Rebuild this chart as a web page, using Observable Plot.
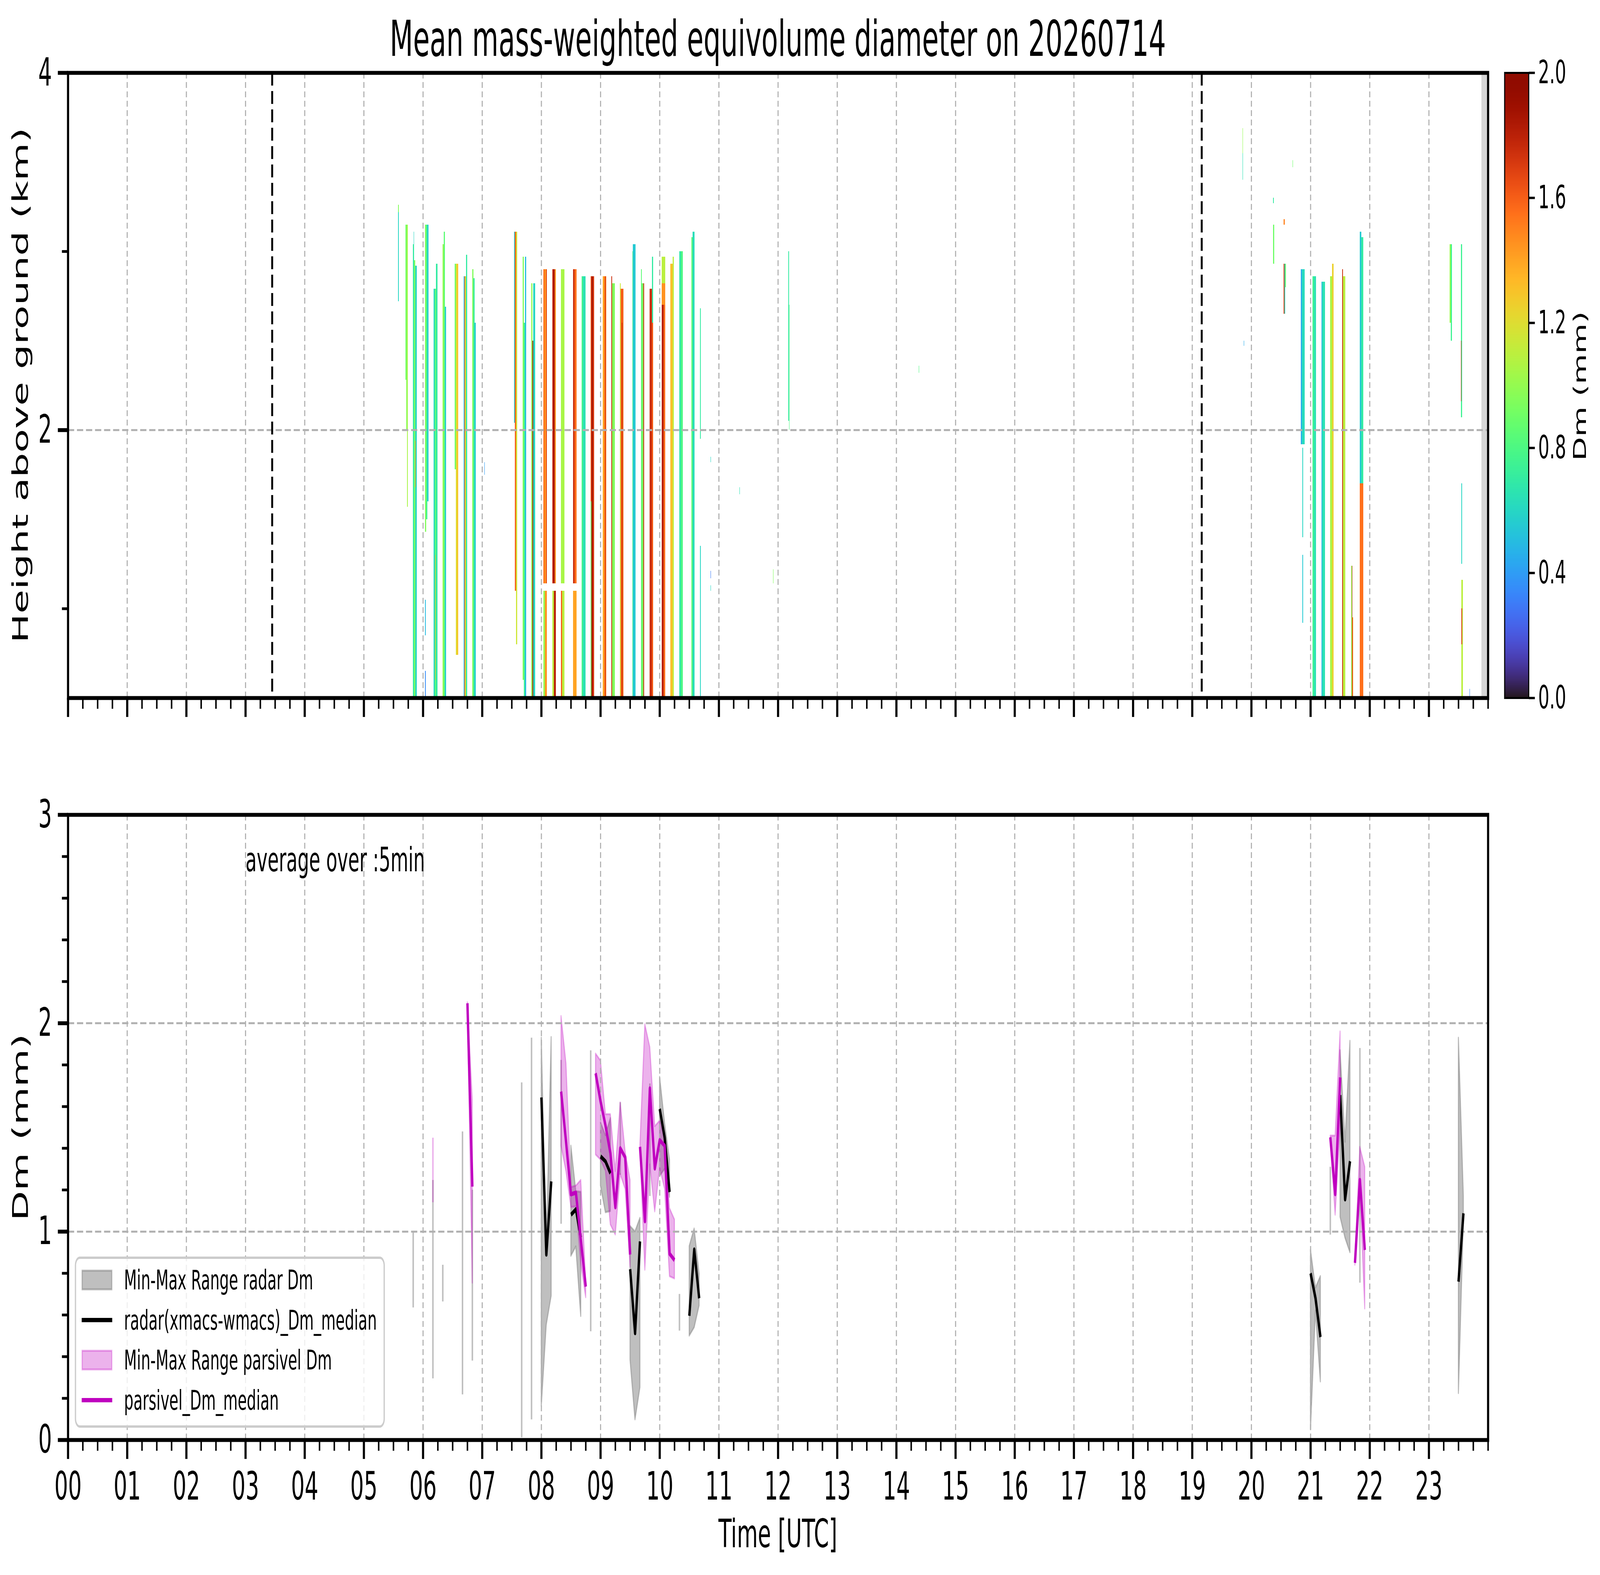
<!DOCTYPE html>
<html><head><meta charset="utf-8">
<script src="https://cdn.jsdelivr.net/npm/d3@7"></script>
<script src="https://cdn.jsdelivr.net/npm/@observablehq/plot@0.6"></script>
<style>
html,body{margin:0;padding:0;background:#fff;overflow:hidden;}
#fig{position:relative;width:7442px;height:4031px;background:#fff;overflow:hidden;font-family:"DejaVu Sans";transform-origin:0 0;}
#fig > svg{position:absolute;}
</style></head>
<body><div id="fig"></div>
<script>
// ---------------- DATA ----------------
const titleText = "Mean mass-weighted equivolume diameter on 20260714";
const hourLabels = ["00","01","02","03","04","05","06","07","08","09","10","11","12","13","14","15","16","17","18","19","20","21","22","23"];
const heightTicks = [2, 4];
const heightMinorTicks = [1, 3];
const dmTicks = [0, 1, 2, 3];
const dmMinorTicks = [0.2,0.4,0.6,0.8,1.2,1.4,1.6,1.8,2.2,2.4,2.6,2.8];
const cbarTicks = [0, 0.4, 0.8, 1.2, 1.6, 2.0];
const sunLines = [3.45, 19.16];          // dashed vertical markers (UTC hours)
const missingBands = [[23.889, 24.0]];   // grey = no radar data

// radar profiles: [start h, end h, bottom km, top km, Dm mm]
const profilesMorning = [
  [5.581,5.595,2.72,3.22,0.6],[5.581,5.595,3.22,3.26,0.95],
  [5.704,5.716,2.28,3.15,0.9],[5.716,5.731,2.00,3.15,0.95],[5.731,5.745,1.57,3.15,1.05],
  [5.833,5.848,0.5,3.04,0.7],[5.845,5.848,3.04,3.11,0.6],[5.848,5.872,0.5,2.95,0.95],[5.872,5.895,0.5,2.92,0.6],[5.868,5.878,1.68,1.94,1.5],
  [6.036,6.055,1.43,3.15,0.95],[6.055,6.075,1.5,3.15,0.75],[6.075,6.096,1.6,3.15,0.55],[6.036,6.05,0.5,0.65,0.35],[6.036,6.05,0.85,1.05,0.5],
  [6.183,6.20,0.5,2.79,0.6],[6.20,6.22,0.5,2.79,0.85],[6.205,6.215,0.6,1.3,1.4],[6.22,6.244,0.5,2.93,0.7],
  [6.332,6.35,0.5,3.04,1.0],[6.35,6.37,0.5,3.11,0.85],[6.37,6.393,0.5,2.69,0.55],
  [6.536,6.553,1.78,2.93,0.9],[6.553,6.575,0.74,2.93,1.2],[6.560,6.566,1.0,2.6,1.75],[6.575,6.598,0.74,2.93,1.3],
  [6.685,6.70,0.5,2.86,0.45],[6.70,6.715,0.5,2.86,1.5],[6.715,6.73,0.5,2.86,1.15],[6.73,6.745,0.5,2.98,0.7],
  [6.834,6.855,0.5,2.90,0.95],[6.855,6.875,0.5,2.85,0.7],[6.875,6.896,0.5,2.6,0.55],
  [7.036,7.042,1.75,1.82,0.4]
];
const profilesMidday = [
  [7.537,7.55,2.04,3.11,0.55],[7.55,7.575,1.1,3.11,1.6],[7.575,7.593,0.8,3.11,1.15],
  [7.683,7.705,0.6,2.97,0.95],[7.705,7.725,0.5,2.6,0.75],[7.725,7.746,0.5,2.97,0.5],
  [7.832,7.85,0.5,2.82,1.0],[7.85,7.865,0.5,2.5,1.85],[7.865,7.894,0.5,2.82,0.6],
  [8.035,8.06,1.14,2.90,1.55],[8.06,8.075,1.14,2.90,1.35],[8.075,8.093,1.14,2.90,1.65],[8.035,8.06,0.5,1.10,1.0],[8.06,8.093,0.5,1.10,1.45],
  [8.184,8.198,1.14,2.90,1.75],[8.198,8.225,1.14,2.90,1.85],[8.225,8.244,1.14,2.90,1.45],[8.184,8.21,0.5,1.10,1.1],[8.21,8.244,0.5,1.10,1.8],
  [8.332,8.392,1.14,2.90,1.05],[8.332,8.35,0.5,1.10,1.6],[8.35,8.392,0.5,1.10,1.1],
  [8.536,8.565,1.14,2.90,1.75],[8.565,8.594,1.14,2.90,1.55],[8.536,8.594,0.5,1.10,1.4],
  [8.684,8.705,0.5,2.86,0.78],[8.705,8.745,0.5,2.86,0.65],
  [8.833,8.85,1.6,2.86,1.6],[8.833,8.85,0.5,1.6,0.9],[8.85,8.875,0.5,2.86,1.85],[8.875,8.893,0.5,2.86,1.7],
  [9.037,9.065,0.5,2.86,1.4],[9.065,9.095,0.5,2.86,1.55],[9.075,9.082,0.5,2.86,1.8],
  [9.183,9.195,0.5,2.86,1.75],[9.195,9.243,0.5,2.82,0.95],
  [9.331,9.345,0.5,2.82,1.15],[9.345,9.391,0.5,2.79,1.6],[9.36,9.37,0.5,2.6,1.85],
  [9.538,9.548,0.5,3.0,0.85],[9.548,9.593,0.5,3.04,0.55],
  [9.683,9.70,0.5,2.90,0.85],[9.70,9.725,0.5,2.82,0.92],[9.725,9.741,0.5,2.82,1.75],
  [9.832,9.87,0.5,2.79,1.75],[9.87,9.89,2.6,2.97,0.7],[9.87,9.89,0.5,2.6,1.6],
  [10.034,10.094,2.82,2.97,1.1],[10.034,10.094,2.70,2.82,1.45],[10.034,10.07,0.5,2.70,1.8],[10.07,10.094,0.5,2.70,1.55],
  [10.182,10.22,0.5,2.93,1.3],[10.22,10.242,0.5,2.97,1.1],
  [10.33,10.36,0.5,3.0,0.68],[10.36,10.393,0.5,3.0,0.8],
  [10.534,10.56,0.5,3.08,0.85],[10.56,10.59,0.5,3.11,0.63],
  [10.683,10.694,1.95,2.68,0.7],[10.683,10.694,0.5,1.35,0.6],
  [10.862,10.87,1.82,1.85,0.6],[10.858,10.866,1.17,1.21,0.3],[10.862,10.87,1.10,1.13,0.6],
  [11.35,11.356,1.64,1.68,0.65],[11.92,11.926,1.14,1.22,0.95],
  [12.175,12.185,2.05,3.0,0.7],[12.185,12.193,2.0,2.7,0.8],
  [14.38,14.385,2.32,2.36,0.8]
];
const profilesEvening = [
  [19.855,19.862,3.55,3.69,1.0],[19.855,19.862,3.40,3.55,0.65],[19.875,19.88,2.47,2.50,0.45],
  [20.365,20.387,2.93,3.15,0.9],[20.37,20.38,3.27,3.30,0.7],
  [20.546,20.565,3.15,3.18,1.5],[20.546,20.56,2.65,2.93,1.7],[20.56,20.575,2.65,2.93,0.6],[20.575,20.588,2.8,2.93,0.95],
  [20.695,20.705,3.47,3.51,0.9],
  [20.833,20.855,1.92,2.9,0.45],[20.855,20.9,1.92,2.9,0.62],[20.86,20.875,1.4,1.9,0.6],[20.86,20.875,0.92,1.3,0.55],
  [21.033,21.06,0.5,2.86,0.75],[21.06,21.095,0.5,2.86,0.65],
  [21.187,21.2,0.5,2.83,0.5],[21.2,21.248,0.5,2.83,0.65],
  [21.334,21.365,0.5,2.86,1.05],[21.365,21.39,0.5,2.93,1.25],
  [21.535,21.55,0.5,2.9,1.75],[21.55,21.59,0.5,2.86,1.1],
  [21.69,21.7,0.5,1.24,1.0],[21.7,21.71,0.5,1.24,1.8],[21.71,21.72,0.5,0.95,1.5],
  [21.836,21.86,1.7,3.11,0.55],[21.86,21.891,1.7,3.08,0.7],[21.836,21.891,0.5,1.7,1.55],
  [23.351,23.37,2.6,3.04,1.0],[23.37,23.39,2.5,3.04,0.75],
  [23.54,23.565,2.07,3.04,0.75],[23.54,23.55,2.16,2.5,1.8],[23.55,23.56,1.25,1.7,0.6],
  [23.55,23.575,0.5,1.16,1.1],[23.55,23.56,0.8,1.0,1.7],[23.69,23.695,0.5,0.55,0.35]
];

// 5-minute radar Dm statistics (mm)
const radarTime   = ["05:50","06:10","06:20","06:40","06:50","07:40","07:50","08:00","08:05","08:10","08:20","08:30","08:35","08:40","08:50","09:00","09:05","09:10","09:20","09:30","09:35","09:40","09:50","10:00","10:05","10:10","10:20","10:30","10:35","10:40","21:00","21:05","21:10","21:20","21:30","21:35","21:40","21:50","23:30","23:35"];
const radarMin    = [0.635,0.295,0.664,0.218,0.38,0.012,0.098,0.163,0.552,0.692,1.037,0.883,0.928,0.594,0.521,1.221,1.092,1.098,1.272,0.384,0.098,0.252,1.17,1.267,1.30,1.166,0.524,0.50,0.54,0.645,0.05,0.62,0.28,0.985,1.07,0.97,0.90,0.754,0.224,1.05];
const radarMax    = [1.0,1.247,0.84,1.48,1.2,1.715,1.93,1.93,0.89,1.933,1.823,1.412,1.193,1.19,1.869,1.524,1.462,1.544,1.62,1.026,1.0,1.065,1.71,1.742,1.52,1.345,0.70,0.93,1.014,0.798,0.912,0.73,0.786,1.31,1.87,1.43,1.915,1.88,1.93,1.17];
const radarMedian = [0.8,0.8,0.75,0.9,0.8,0.9,1.0,1.644,0.89,1.241,1.4,1.081,1.107,0.972,1.2,1.361,1.337,1.28,1.45,0.82,0.513,0.953,1.4,1.589,1.451,1.19,0.6,0.596,0.914,0.68,0.80,0.68,0.494,1.15,1.655,1.155,1.338,1.2,0.76,1.088];

// 5-minute parsivel Dm statistics (mm)
const parsivelTime   = ["06:10","06:45","06:50","08:20","08:25","08:30","08:35","08:40","08:45","08:55","09:00","09:05","09:10","09:15","09:20","09:25","09:30","09:40","09:45","09:50","09:55","10:00","10:05","10:10","10:15","21:20","21:25","21:30","21:45","21:50","21:55"];
const parsivelMin    = [1.14,2.08,0.754,1.412,1.29,1.117,1.12,0.85,0.684,1.369,1.345,1.291,1.034,0.985,1.275,1.205,0.832,1.39,0.816,1.322,1.096,1.306,1.205,0.785,0.774,1.44,1.08,1.5,0.84,1.216,0.63];
const parsivelMax    = [1.45,2.10,1.633,2.034,1.807,1.213,1.22,1.247,0.76,1.854,1.82,1.563,1.563,1.29,1.62,1.384,1.247,1.415,1.994,1.885,1.505,1.532,1.446,1.112,1.058,1.46,1.46,1.96,0.86,1.406,1.31];
const parsivelMedian = [1.25,2.096,1.216,1.672,1.431,1.179,1.187,0.961,0.736,1.76,1.625,1.509,1.376,1.117,1.40,1.356,0.89,1.407,1.05,1.687,1.303,1.439,1.412,0.894,0.863,1.453,1.18,1.74,0.85,1.248,0.912];

const annotation = {x: 3.0, y: 2.78, text: "average over :5min"};
const legendItems = [
  {kind: "patch", color: "gray", opacity: 0.5, label: "Min-Max Range radar Dm"},
  {kind: "line", color: "black", label: "radar(xmacs-wmacs)_Dm_median"},
  {kind: "patch", color: "#bf00bf", opacity: 0.3, label: "Min-Max Range parsivel Dm"},
  {kind: "line", color: "#bf00bf", label: "parsivel_Dm_median"}
];

// ---------------- PREP ----------------
const toHour = s => { const [h, m] = s.split(":").map(Number); return h + m / 60; };
const stripes = [...profilesMorning, ...profilesMidday, ...profilesEvening]
  .map(([t0, t1, z0, z1, dm]) => ({t0, t1, z0, z1, dm}));
function series(times, lo, hi, med) {
  const rows = times.map((s, i) => ({t: toHour(s), lo: lo[i], hi: hi[i], med: med[i]}));
  let run = 0;
  rows.forEach((r, i) => { if (i > 0 && r.t - rows[i - 1].t > 5.5 / 60) run++; r.run = run; });
  const n = d3.rollup(rows, v => v.length, d => d.run);
  return {multi: rows.filter(r => n.get(r.run) > 1), single: rows.filter(r => n.get(r.run) === 1)};
}
const radar = series(radarTime, radarMin, radarMax, radarMedian);
const pars = series(parsivelTime, parsivelMin, parsivelMax, parsivelMedian);
const hourTicks = hourLabels.map(Number);
const quarterTicks = d3.range(1, 97).map(i => i / 4).filter(v => v % 1 !== 0 || v === 24);

const W = 7442, H = 4031;
const FONT = "DejaVu Sans";
const GRID = "#b0b0b0";
const MAG = "#bf00bf";
const svgStyle = {background: "transparent", maxWidth: "none", overflow: "visible", fontFamily: FONT, color: "black"};
const fig = document.getElementById("fig");
const colorScale = {type: "linear", scheme: "turbo", domain: [0, 2], clamp: true};
const noText = () => "";

function xTickMarks(withLabels) {
  return [
    Plot.axisX(quarterTicks, {tickSize: 28, strokeWidth: 7, tickFormat: noText, label: null}),
    Plot.axisX(hourTicks, {tickSize: 49, strokeWidth: 10, tickFormat: noText, label: null}),
    withLabels ? Plot.text(hourTicks, {x: d => d, frameAnchor: "bottom", dy: 120, lineAnchor: "middle",
      text: d => hourLabels[d], fontSize: 100, fill: "black"}) : null
  ];
}
function yTickMarks(major, minor) {
  return [
    Plot.axisY(minor, {tickSize: 28, strokeWidth: 7, tickFormat: noText, label: null}),
    Plot.axisY(major, {tickSize: 47, strokeWidth: 10, tickFormat: noText, label: null}),
    Plot.text(major, {y: d => d, frameAnchor: "left", dx: -75, textAnchor: "end", lineAnchor: "middle",
      text: d => String(d), fontSize: 100, fill: "black"})
  ];
}

// ---------------- TOP PANEL ----------------
const topPlot = Plot.plot({
  width: W, height: 1900,
  marginLeft: 316, marginRight: W - 6921, marginTop: 186, marginBottom: 114,
  x: {domain: [0, 24], label: null},
  y: {domain: [0.5, 4], label: null},
  color: colorScale,
  style: svgStyle,
  marks: [
    Plot.rect(stripes, {x1: "t0", x2: "t1", y1: "z0", y2: "z1", fill: "dm", shapeRendering: "crispEdges"}),
    Plot.rect(missingBands, {x1: d => d[0], x2: d => d[1], fill: "#d6d6d6"}),
    Plot.gridX(hourTicks.slice(1), {stroke: GRID, strokeOpacity: 1, strokeWidth: 5, strokeDasharray: "15,9"}),
    Plot.gridY(heightTicks.slice(0, 1), {stroke: GRID, strokeOpacity: 1, strokeWidth: 5, strokeDasharray: "29,13"}),
    Plot.ruleX(sunLines, {stroke: "black", strokeWidth: 9, strokeDasharray: "33,14"}),
    ...xTickMarks(false),
    ...yTickMarks(heightTicks, heightMinorTicks),
    Plot.frame({stroke: "black", strokeWidth: 10})
  ]
});
topPlot.style.left = "0px"; topPlot.style.top = "0px";
fig.appendChild(topPlot);

// ---------------- BOTTOM PANEL ----------------
const BT = 1950;
const bottomPlot = Plot.plot({
  width: W, height: 2081,
  marginLeft: 316, marginRight: W - 6921, marginTop: 2085 - BT, marginBottom: BT + 2081 - 3685,
  x: {domain: [0, 24], label: null},
  y: {domain: [0, 3], label: null},
  style: svgStyle,
  marks: [
    Plot.areaY(radar.multi, {x: "t", y1: "lo", y2: "hi", z: "run", fill: "gray", fillOpacity: 0.5, stroke: "gray", strokeOpacity: 0.5, strokeWidth: 5}),
    Plot.ruleX(radar.single, {x: "t", y1: "lo", y2: "hi", stroke: "gray", strokeOpacity: 0.5, strokeWidth: 7}),
    Plot.areaY(pars.multi, {x: "t", y1: "lo", y2: "hi", z: "run", fill: MAG, fillOpacity: 0.3, stroke: MAG, strokeOpacity: 0.3, strokeWidth: 5}),
    Plot.ruleX(pars.single, {x: "t", y1: "lo", y2: "hi", stroke: MAG, strokeOpacity: 0.3, strokeWidth: 7}),
    Plot.gridX(hourTicks.slice(1), {stroke: GRID, strokeOpacity: 1, strokeWidth: 5, strokeDasharray: "15,9"}),
    Plot.gridY(dmTicks.slice(1, 3), {stroke: GRID, strokeOpacity: 1, strokeWidth: 5, strokeDasharray: "29,13"}),
    Plot.line(radar.multi, {x: "t", y: "med", z: "run", stroke: "black", strokeWidth: 11, strokeLinecap: "butt"}),
    Plot.line(pars.multi, {x: "t", y: "med", z: "run", stroke: MAG, strokeWidth: 11, strokeLinecap: "butt"}),
    Plot.text([annotation], {x: "x", y: "y", text: "text", textAnchor: "start", fontSize: 85, fill: "black"}),
    ...xTickMarks(true),
    ...yTickMarks(dmTicks, dmMinorTicks),
    Plot.frame({stroke: "black", strokeWidth: 10})
  ]
});
bottomPlot.style.left = "0px"; bottomPlot.style.top = BT + "px";
fig.appendChild(bottomPlot);

// ---------------- COLORBAR ----------------
const CBL = 6800, CBW = 642;
const cbarPlot = Plot.plot({
  width: CBW, height: 1900,
  marginLeft: 6998 - CBL, marginRight: CBL + CBW - 7110, marginTop: 186, marginBottom: 114,
  x: {domain: [0, 1], axis: null},
  y: {domain: [0, 2], label: null},
  color: colorScale,
  style: svgStyle,
  marks: [
    Plot.raster({x1: 0, x2: 1, y1: 0, y2: 2, width: 1, height: 256, fill: (x, y) => y}),
    Plot.axisY(cbarTicks, {anchor: "right", tickSize: 28, strokeWidth: 6, tickFormat: noText, label: null}),
    Plot.text(cbarTicks, {y: d => d, frameAnchor: "right", dx: 44, textAnchor: "start", lineAnchor: "middle",
      text: d => d.toFixed(1), fontSize: 82, fill: "black"}),
    Plot.frame({stroke: "black", strokeWidth: 5})
  ]
});
cbarPlot.style.left = CBL + "px"; cbarPlot.style.top = "0px";
fig.appendChild(cbarPlot);

// ---------------- TEXT & LEGEND ----------------
const ov = d3.select(fig).append("svg").attr("width", W).attr("height", H)
  .style("left", "0px").style("top", "0px").style("font-family", FONT);
ov.append("text").attr("x", 3618).attr("y", 143).attr("text-anchor", "middle").attr("font-size", 126).text(titleText);
ov.append("text").attr("transform", "translate(129,986) rotate(-90)").attr("text-anchor", "middle").attr("font-size", 100).text("Height above ground (km)");
ov.append("text").attr("transform", "translate(129,2885) rotate(-90)").attr("text-anchor", "middle").attr("font-size", 100).text("Dm (mm)");
ov.append("text").attr("x", 3618).attr("y", 3960).attr("text-anchor", "middle").attr("font-size", 100).text("Time [UTC]");
ov.append("text").attr("transform", "translate(7377,988) rotate(-90)").attr("text-anchor", "middle").attr("font-size", 80).text("Dm (mm)");

const lg = ov.append("g");
lg.append("rect").attr("x", 351).attr("y", 3219).attr("width", 1436).attr("height", 432).attr("rx", 20)
  .attr("fill", "white").attr("fill-opacity", 0.8).attr("stroke", "#cccccc").attr("stroke-width", 6);
legendItems.forEach((d, i) => {
  const cy = 3276 + i * 102.5;
  if (d.kind === "patch") {
    lg.append("rect").attr("x", 382).attr("y", cy - 24).attr("width", 138).attr("height", 48)
      .attr("fill", d.color).attr("fill-opacity", d.opacity).attr("stroke", d.color).attr("stroke-opacity", d.opacity).attr("stroke-width", 5);
  } else {
    lg.append("line").attr("x1", 380).attr("x2", 522).attr("y1", cy).attr("y2", cy).attr("stroke", d.color).attr("stroke-width", 11);
  }
  lg.append("text").attr("x", 577).attr("y", cy).attr("dy", "0.35em").attr("font-size", 69).text(d.label);
});

// fit the 7442x4031 figure into whatever window the page is given
function fit() {
  const sx = Math.min(1, window.innerWidth / W), sy = Math.min(1, window.innerHeight / H);
  fig.style.transform = `scale(${sx}, ${sy})`;
}
fit();
window.addEventListener("resize", fit);
</script></body></html>
